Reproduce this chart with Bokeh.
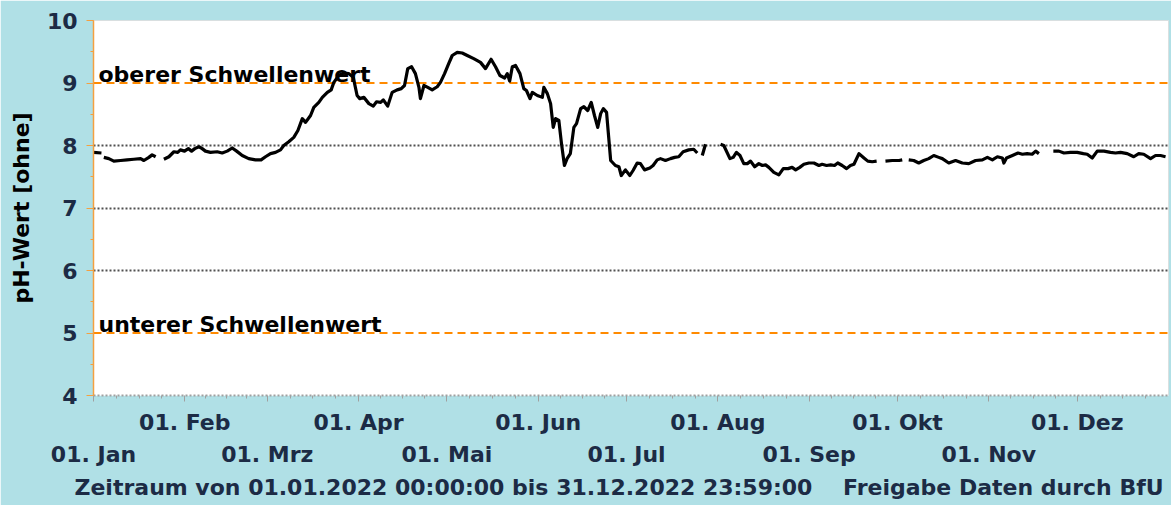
import math
from bokeh.plotting import figure
from bokeh.models import (Range1d, LinearAxis, FixedTicker, SingleIntervalTicker,
                          Span, Label, Title)
from bokeh.embed import file_html
from bokeh.resources import INLINE

NAN = float("nan")

# ---------------- data ----------------
# day of year 2022 (0 = 01.01.2022 00:00), NaN marks gaps in the record
day = [0.0, 2.7, NAN,
       3.5, 5.2, 6.9, 9.2, 11.4, 13.7, 16.0, 17.1, 18.8, 19.9, 21.1, NAN,
       23.9, 25.6, 27.3, 28.6, 29.5, 30.9, 32.2, 33.3, 34.4, 35.8, 36.9, 38.0, 39.7,
       42.0, 43.7, 45.4, 47.1, 48.6, 50.5, 52.7, 55.0, 56.9, 58.4, 60.1, 61.8, 63.5,
       64.6, 66.3, 68.0, 69.4, 70.9, 72.0, 73.7, 74.8, 76.5, 77.7, 79.4, 80.7, 81.6,
       83.3, 85.0, 86.7, 88.2, 89.5, 90.4, 91.8, 93.5, 95.0, 96.1, 97.5, 98.4, 99.9,
       101.4, 103.1, 104.5, 105.6, 106.7, 108.0, 109.3, 110.5, 111.0, 112.2, 113.5,
       115.0, 116.7, 117.8, 119.2, 120.6, 121.8, 123.5, 125.2, 126.9, 129.1, 131.4,
       133.1, 135.0, 136.5, 138.0, 139.6, 140.5, 141.3, 142.2, 143.3, 144.8, 146.1,
       147.0, 148.2, 149.0, 150.7, 152.4, 152.9, 154.1, 155.2, 156.1, 156.9, 158.0,
       158.9, 159.9, 160.8, 161.9, 163.1, 164.0, 165.4, 166.5, 167.8, 169.0, 170.1,
       171.2, 172.2, 173.1, 174.2, 175.6, 177.2, 178.4, 179.2, 180.6, 182.1, 183.2,
       184.6, 185.7, 187.1, 188.9, 190.0, 191.4, 192.5, 194.2, 195.9, 197.3, 198.7,
       200.2, 202.1, 203.8, 205.0, NAN,
       206.7, 207.8, NAN,
       212.9, 214.0, 216.1, 217.2, 218.3, 219.5, 220.8, 222.0, 223.1, 224.5, 225.9,
       227.1, 228.2, 229.3, 231.0, 232.7, 234.2, 235.8, 237.2, 238.4, 239.8, 241.2,
       242.9, 244.6, 246.3, 247.4, 248.9, 250.3, 251.6, 252.7, 254.2, 255.7, 257.0,
       258.2, 259.9, 261.6, 262.9, 264.4, 265.9, NAN,
       268.9, 271.2, 273.5, 274.6, NAN,
       276.8, 278.5, 280.2, 281.9, 283.6, 285.3, 287.0, 288.2, 290.4, 292.7, 295.0,
       297.2, 299.5, 301.8, 303.5, 305.2, 306.9, 308.6, 309.1, 310.0, 312.0, 313.9,
       315.4, 317.0, 318.7, 319.9, 321.0, NAN,
       325.9, 327.8, 329.5, 331.7, 334.0, 336.1, 337.4, 339.1, 340.8, 343.1, 345.3,
       347.0, 348.7, 351.0, 353.2, 354.9, 356.6, 358.9, 360.6, 362.3, 364.0]

ph = [7.89, 7.88, NAN,
      7.81, 7.79, 7.75, 7.76, 7.77, 7.78, 7.79, 7.76, 7.81, 7.85, 7.82, NAN,
      7.78, 7.82, 7.90, 7.89, 7.93, 7.91, 7.95, 7.91, 7.95, 7.98, 7.95, 7.91, 7.89,
      7.90, 7.88, 7.91, 7.96, 7.91, 7.84, 7.79, 7.77, 7.77, 7.82, 7.87, 7.89, 7.93,
      8.00, 8.06, 8.13, 8.24, 8.43, 8.37, 8.48, 8.61, 8.69, 8.77, 8.85, 8.89, 9.01,
      9.12, 9.16, 9.15, 9.09, 8.80, 8.75, 8.77, 8.67, 8.63, 8.70, 8.69, 8.73, 8.63,
      8.85, 8.89, 8.91, 8.96, 9.23, 9.26, 9.15, 8.93, 8.75, 8.96, 8.93,
      8.89, 8.94, 9.01, 9.15, 9.31, 9.44, 9.49, 9.48, 9.44, 9.39, 9.33,
      9.23, 9.38, 9.26, 9.12, 9.08, 9.15, 9.03, 9.26, 9.28, 9.15, 8.91,
      8.88, 8.75, 8.85, 8.80, 8.77, 8.93, 8.83, 8.67, 8.29, 8.43, 8.40,
      8.03, 7.68, 7.79, 7.87, 8.29, 8.35, 8.59, 8.62, 8.56, 8.69, 8.48,
      8.29, 8.51, 8.59, 8.53, 7.76, 7.68, 7.66, 7.52, 7.61, 7.52, 7.60,
      7.72, 7.71, 7.61, 7.64, 7.68, 7.77, 7.79, 7.76, 7.79, 7.81, 7.82,
      7.90, 7.93, 7.94, 7.88, NAN,
      7.84, 8.02, NAN,
      8.02, 8.00, 7.79, 7.81, 7.89, 7.84, 7.71, 7.71, 7.75, 7.66, 7.71,
      7.68, 7.69, 7.65, 7.57, 7.53, 7.63, 7.63, 7.65, 7.61, 7.65, 7.70,
      7.72, 7.72, 7.68, 7.70, 7.68, 7.69, 7.68, 7.72, 7.68, 7.63, 7.68,
      7.70, 7.87, 7.80, 7.75, 7.74, 7.75, NAN,
      7.75, 7.76, 7.76, 7.77, NAN,
      7.77, 7.76, 7.72, 7.76, 7.79, 7.84, 7.81, 7.79, 7.72, 7.76, 7.72,
      7.71, 7.76, 7.77, 7.81, 7.77, 7.82, 7.80, 7.72, 7.80, 7.84, 7.88,
      7.86, 7.87, 7.86, 7.91, 7.87, NAN,
      7.91, 7.91, 7.88, 7.89, 7.89, 7.87, 7.86, 7.80, 7.91, 7.91, 7.89,
      7.88, 7.89, 7.87, 7.82, 7.87, 7.86, 7.79, 7.84, 7.84, 7.82]

month_start = [0, 31, 59, 90, 120, 151, 181, 212, 243, 273, 304, 334]
month_label = ["01. Jan", "01. Feb", "01. Mrz", "01. Apr", "01. Mai", "01. Jun",
               "01. Jul", "01. Aug", "01. Sep", "01. Okt", "01. Nov", "01. Dez"]
year_days = 365
y_min, y_max = 4, 10
grid_levels = [6, 7, 8]
thresholds = [9, 5]
threshold_names = ["oberer Schwellenwert", "unterer Schwellenwert"]
y_title = "pH-Wert [ohne]"
footer_left = "Zeitraum von 01.01.2022 00:00:00 bis 31.12.2022 23:59:00"
footer_right = "Freigabe Daten durch BfU"

# ---------------- styles ----------------
BG = "#b0e0e6"
NAVY = "#1c2b45"
ORANGE = "#ff8a00"
AXIS_ORANGE = "#f4a040"
GREY = "#a0a0a0"
FONT = "DejaVu Sans"
FS = "22px"

p = figure(width=1171, height=505, output_backend="svg", toolbar_location=None,
           x_range=Range1d(0, year_days), y_range=Range1d(y_min, y_max),
           x_axis_type=None, title=None,
           min_border_left=93, min_border_right=3, min_border_top=20,
           min_border_bottom=110,
           background_fill_color="white", border_fill_color=BG,
           outline_line_color=None)

# y axis
ya = p.yaxis[0]
ya.ticker = SingleIntervalTicker(interval=1, num_minor_ticks=2)
ya.axis_line_color = AXIS_ORANGE
ya.axis_line_width = 1.5
ya.major_tick_line_color = AXIS_ORANGE
ya.minor_tick_line_color = AXIS_ORANGE
ya.major_tick_out = 7
ya.major_tick_in = 0
ya.minor_tick_out = 3
ya.minor_tick_in = 0
ya.major_label_text_font = FONT
ya.major_label_text_font_size = FS
ya.major_label_text_font_style = "bold"
ya.major_label_text_color = NAVY
ya.major_label_standoff = 9
ya.axis_label = y_title
ya.axis_label_text_font = FONT
ya.axis_label_text_font_size = FS
ya.axis_label_text_font_style = "bold"
ya.axis_label_text_color = "black"
ya.axis_label_standoff = 10

# grids
p.xgrid.visible = False
p.ygrid.ticker = FixedTicker(ticks=grid_levels)
p.ygrid.grid_line_color = "#505050"
p.ygrid.grid_line_dash = "2 2"
p.ygrid.grid_line_width = 2

# x axes: upper row (all month ticks, even-month labels), lower row (odd)
quarters = []
bounds = month_start + [year_days]
for i in range(12):
    L = bounds[i + 1] - bounds[i]
    quarters += [bounds[i] + L * k / 4 for k in (1, 2, 3)]

xa1 = LinearAxis(ticker=FixedTicker(ticks=month_start, minor_ticks=quarters))
xa1.major_label_overrides = {m: (lbl if i % 2 == 1 else "")
                             for i, (m, lbl) in enumerate(zip(month_start, month_label))}
xa1.axis_line_color = GREY
xa1.axis_line_dash = "2 2"
xa1.axis_line_width = 2
xa1.major_tick_line_color = GREY
xa1.minor_tick_line_color = GREY
xa1.major_tick_out = 6
xa1.major_tick_in = 0
xa1.minor_tick_out = 3
xa1.minor_tick_in = 0
xa1.major_label_standoff = 8
xa1.major_label_text_font = FONT
xa1.major_label_text_font_size = FS
xa1.major_label_text_font_style = "bold"
xa1.major_label_text_color = NAVY
p.add_layout(xa1, "below")

xa2 = LinearAxis(ticker=FixedTicker(ticks=month_start[0::2], minor_ticks=[]))
xa2.major_label_overrides = {m: lbl for m, lbl in zip(month_start[0::2], month_label[0::2])}
xa2.axis_line_color = None
xa2.major_tick_line_color = None
xa2.minor_tick_line_color = None
xa2.major_tick_out = 0
xa2.major_tick_in = 0
xa2.minor_tick_out = 0
xa2.minor_tick_in = 0
xa2.major_label_standoff = 4
xa2.major_label_text_font = FONT
xa2.major_label_text_font_size = FS
xa2.major_label_text_font_style = "bold"
xa2.major_label_text_color = NAVY
p.add_layout(xa2, "below")

footer = Title(text=footer_left + "\u00a0" * 4 + footer_right, align="left",
               offset=-19, standoff=6, text_font=FONT, text_font_size=FS,
               text_font_style="bold", text_color=NAVY)
p.add_layout(footer, "below")

# frame borders (top / right)
p.add_layout(Span(location=y_max, dimension="width", line_color="#c8c8c8",
                  line_width=1, level="underlay"))
p.add_layout(Span(location=year_days, dimension="height", line_color="#c8c8c8",
                  line_width=1, level="underlay"))

# thresholds
for t, name in zip(thresholds, threshold_names):
    p.add_layout(Span(location=t, dimension="width", line_color=ORANGE,
                      line_dash="8 5", line_width=2, level="underlay"))
    p.add_layout(Label(x=0, y=t, x_offset=5, y_offset=9, text=name,
                       text_baseline="alphabetic", text_font=FONT,
                       text_font_size=FS, text_font_style="bold",
                       text_color="black"))

# pH series
p.line(day, ph, line_color="black", line_width=3.2, line_join="round")

html = file_html(p, INLINE)
html = html.replace("<body>", '<body style="background-color:%s;">' % BG, 1)
open("out.html", "w").write(html)
